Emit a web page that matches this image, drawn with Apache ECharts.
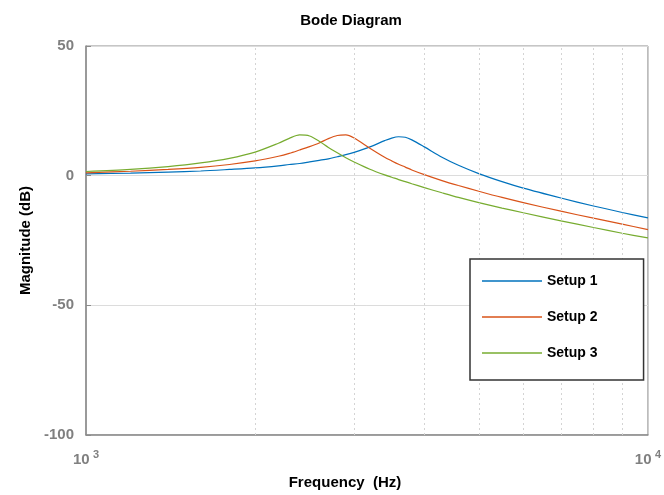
<!DOCTYPE html>
<html>
<head>
<meta charset="utf-8">
<script src="https://cdn.jsdelivr.net/npm/echarts@6/dist/echarts.min.js"></script>
<style>
html, body { margin: 0; padding: 0; background: #fff; }
#chart { width: 664px; height: 495px; }
</style>
</head>
<body>
<div id="chart"></div>
<script>
// frequency points (Hz) and magnitudes (dB)
var freq = [1000,1200,1400,1600,1800,2000,2200,2300,2400,2500,2600,2700,2800,2900,3000,3200,3400,3500,3600,3700,3800,4000,4300,4600,5000,5500,6000,7000,8000,9000,10000];
var setup1 = [0.7,1.0,1.4,1.8,2.4,3.0,3.8,4.3,4.7,5.3,5.9,6.5,7.3,8.1,9.0,11.1,13.5,14.5,15.0,14.8,13.8,11.1,7.1,4.0,0.8,-2.3,-4.8,-8.6,-11.7,-14.2,-16.3];
var setup2 = [1.1,1.7,2.4,3.2,4.3,5.7,7.5,8.6,9.9,11.2,12.6,14.3,15.5,15.7,14.5,10.6,7.1,5.7,4.4,3.3,2.2,0.4,-1.9,-3.8,-6.0,-8.4,-10.4,-13.7,-16.4,-18.7,-20.8];
var setup3 = [1.6,2.4,3.5,4.9,6.7,9.1,12.5,14.4,15.7,15.3,13.3,10.9,8.8,6.9,5.3,2.5,0.3,-0.6,-1.5,-2.3,-3.1,-4.6,-6.6,-8.4,-10.4,-12.5,-14.3,-17.4,-20.0,-22.2,-24.0];
var names = ['Setup 1', 'Setup 2', 'Setup 3'];
var colors = ['#0072BD', '#D95319', '#77AC30'];
var gridFreq = [2000,3000,4000,5000,6000,7000,8000,9000];

var myChart = echarts.init(document.getElementById('chart'));

function pairs(ys) {
    var out = [];
    for (let i = 0; i < freq.length; i++) {
        out.push([freq[i], ys[i]]);
    }
    return out;
}

var allData = [setup1, setup2, setup3];
var series = [];

// dotted grid lines between the decades
series.push({
    name: 'grid',
    type: 'line',
    data: [],
    silent: true,
    z: 1,
    markLine: {
        silent: true,
        symbol: 'none',
        label: { show: false },
        lineStyle: { color: '#d4d4d4', type: [2, 3], width: 1 },
        data: gridFreq.map(function (f) { return { xAxis: f }; })
    }
});

for (let i = 0; i < allData.length; i++) {
    series.push({
        name: names[i],
        type: 'line',
        data: pairs(allData[i]),
        smooth: 0.3,
        showSymbol: false,
        z: 3,
        lineStyle: { color: colors[i], width: 1.2 },
        itemStyle: { color: colors[i] }
    });
}

var option = {
    animation: false,
    title: {
        text: 'Bode Diagram',
        left: 346,
        textAlign: 'center',
        top: 8,
        textStyle: { fontSize: 15, fontWeight: 'bold', color: '#000', fontFamily: 'Liberation Sans' }
    },
    grid: {
        left: 86,
        right: 14,
        top: 46,
        bottom: 58,
        show: true,
        borderColor: '#8c8c8c',
        borderWidth: 1
    },
    legend: {
        data: names,
        orient: 'vertical',
        left: 470,
        top: 259,
        z: 10,
        icon: 'rect',
        itemWidth: 60,
        itemHeight: 1.5,
        itemGap: 20,
        padding: [14, 46, 19, 12],
        borderColor: '#333',
        borderWidth: 1.5,
        backgroundColor: '#fff',
        textStyle: { fontSize: 14, fontWeight: 'bold', color: '#000', fontFamily: 'Liberation Sans', lineHeight: 16 }
    },
    xAxis: {
        type: 'log',
        logBase: 10,
        min: 1000,
        max: 10000,
        name: 'Frequency  (Hz)',
        nameLocation: 'middle',
        nameGap: 40,
        nameTextStyle: { fontSize: 15, fontWeight: 'bold', color: '#000', fontFamily: 'Liberation Sans', padding: [0, 44, 0, 0] },
        axisLine: { onZero: false, lineStyle: { color: '#8c8c8c', width: 1.5 } },
        axisTick: { show: false },
        splitLine: { show: false },
        axisLabel: {
            margin: 14,
            formatter: function (v) {
                return '{b|10} {s|' + Math.round(Math.log10(v)) + '}';
            },
            rich: {
                b: { fontSize: 15, fontWeight: 'bold', color: '#808080', fontFamily: 'Liberation Sans' },
                s: { fontSize: 11, fontWeight: 'bold', color: '#808080', fontFamily: 'Liberation Sans', padding: [0, 0, 10, 0] }
            }
        }
    },
    yAxis: {
        type: 'value',
        min: -100,
        max: 50,
        interval: 50,
        name: 'Magnitude (dB)',
        nameLocation: 'middle',
        nameGap: 52,
        nameTextStyle: { fontSize: 15, fontWeight: 'bold', color: '#000', fontFamily: 'Liberation Sans' },
        axisLine: { show: true, lineStyle: { color: '#8c8c8c', width: 1.5 } },
        axisTick: { show: true, inside: true, length: 5, lineStyle: { color: '#8c8c8c' } },
        splitLine: { show: true, lineStyle: { color: '#dcdcdc', width: 1 } },
        axisLabel: {
            margin: 12,
            fontSize: 15,
            fontWeight: 'bold',
            color: '#808080',
            fontFamily: 'Liberation Sans'
        }
    },
    series: series
};

myChart.setOption(option, true);
</script>
</body>
</html>
